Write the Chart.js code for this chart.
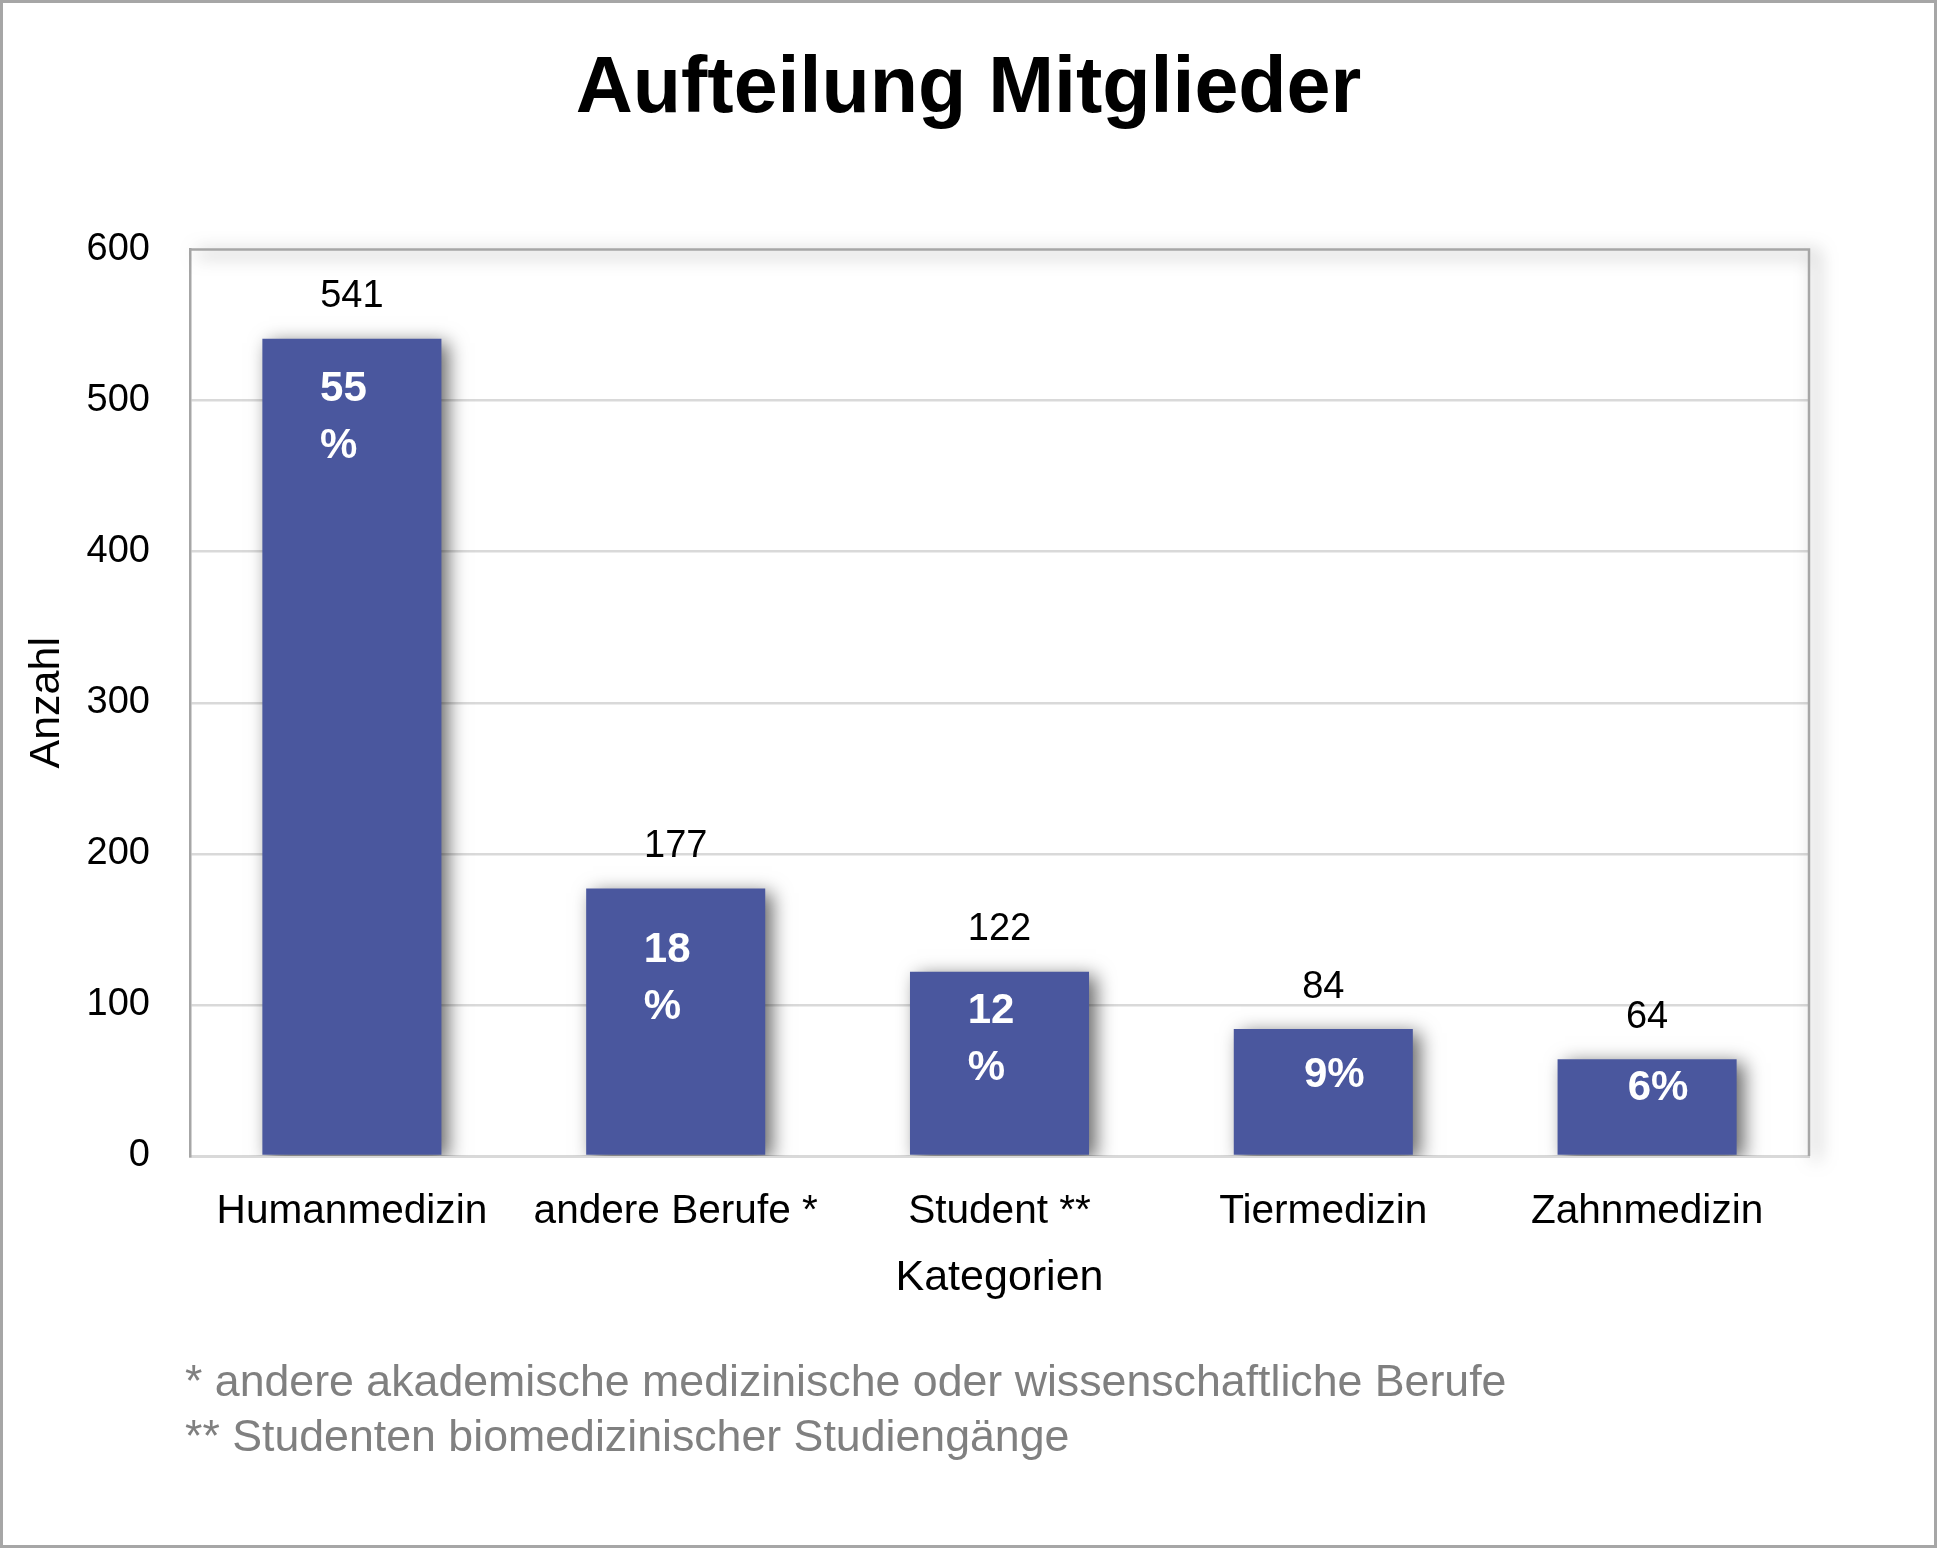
<!DOCTYPE html>
<html>
<head>
<meta charset="utf-8">
<script src="https://cdn.jsdelivr.net/npm/chart.js@4"></script>
<style>
  html, body { margin: 0; padding: 0; background: #ffffff; }
  canvas { display: block; }
</style>
</head>
<body>
<canvas id="c" width="1937" height="1548" style="width:1937px;height:1548px"></canvas>
<script>
// ---- Data ----
const categories = ['Humanmedizin', 'andere Berufe *', 'Student **', 'Tiermedizin', 'Zahnmedizin'];
const counts = [541, 177, 122, 84, 64];
const percents = [55, 18, 12, 9, 6];
const yTickValues = [0, 100, 200, 300, 400, 500, 600];
const chartTitle = 'Aufteilung Mitglieder';
const xAxisTitle = 'Kategorien';
const yAxisTitle = 'Anzahl';
const footnotes = [
  '* andere akademische medizinische oder wissenschaftliche Berufe',
  '** Studenten biomedizinischer Studiengänge'
];

// ---- Styles ----
const FONT = "'Liberation Sans', Arial, Helvetica, sans-serif";
const BAR_COLOR = '#4a579e';
const GRID_COLOR = '#d9d9d9';
const FRAME_COLOR = '#a6a6a6';

const shadowPlugin = {
  id: 'barShadow',
  beforeDatasetsDraw(chart) {
    const ctx = chart.ctx;
    ctx.save();
    ctx.shadowColor = 'rgba(0,0,0,0.6)';
    ctx.shadowBlur = 18;
    ctx.shadowOffsetX = 7;
    ctx.shadowOffsetY = 4;
  },
  afterDatasetsDraw(chart) {
    chart.ctx.restore();
  }
};

const framePlugin = {
  id: 'frame',
  beforeDatasetsDraw(chart) {
    const {ctx, chartArea: a} = chart;
    ctx.save();
    ctx.strokeStyle = FRAME_COLOR;
    ctx.lineWidth = 2.5;
    ctx.beginPath();
    ctx.moveTo(a.left, a.top);
    ctx.lineTo(a.right, a.top);
    ctx.lineTo(a.right, a.bottom);
    ctx.stroke();
    ctx.restore();
  },
  afterDraw(chart) {
    const ctx = chart.ctx;
    ctx.save();
    ctx.strokeStyle = FRAME_COLOR;
    ctx.lineWidth = 3;
    ctx.strokeRect(1.5, 1.5, chart.width - 3, chart.height - 3);
    ctx.restore();
  }
};

const labelPlugin = {
  id: 'barLabels',
  afterDatasetsDraw(chart, args, opts) {
    const ctx = chart.ctx;
    const meta = chart.getDatasetMeta(0);
    ctx.save();
    meta.data.forEach((bar, i) => {
      const x = bar.x, top = bar.y;
      // value above bar
      ctx.font = '38px ' + FONT;
      ctx.fillStyle = '#000000';
      ctx.textAlign = 'center';
      ctx.textBaseline = 'middle';
      ctx.fillText(String(counts[i]), x, top - 42);
      // percentage inside bar
      ctx.font = 'bold 42px ' + FONT;
      ctx.fillStyle = '#ffffff';
      const num = String(percents[i]);
      const y0 = top + opts.nudgeY[i] + 2.5;
      if (num.length > 1) {
        const w = ctx.measureText(num).width;
        const lx = x - w / 2 - 8.5;
        ctx.textAlign = 'left';
        ctx.fillText(num, lx, y0);
        ctx.fillText('%', lx, y0 + 57);
      } else {
        ctx.textAlign = 'center';
        ctx.fillText(num + '%', x + 11, y0);
      }
    });
    ctx.restore();
  }
};

const footnotePlugin = {
  id: 'footnotes',
  afterDraw(chart) {
    const ctx = chart.ctx;
    ctx.save();
    ctx.font = '44.7px ' + FONT;
    ctx.fillStyle = '#808080';
    ctx.textAlign = 'left';
    ctx.textBaseline = 'middle';
    ctx.fillText(footnotes[0], 185, 1384);
    ctx.fillText(footnotes[1], 185, 1439);
    ctx.restore();
  }
};

new Chart(document.getElementById('c'), {
  type: 'bar',
  data: {
    labels: categories,
    datasets: [{
      label: 'Anzahl',
      data: counts,
      backgroundColor: BAR_COLOR,
      borderWidth: 0,
      barPercentage: 0.553,
      categoryPercentage: 1.0,
      yAxisID: 'y'
    }]
  },
  plugins: [shadowPlugin, framePlugin, labelPlugin, footnotePlugin],
  options: {
    responsive: false,
    animation: false,
    devicePixelRatio: 1,
    layout: { padding: { left: 0, top: 0, right: 0, bottom: 0 } },
    plugins: {
      legend: { display: false },
      tooltip: { enabled: false },
      title: {
        display: true,
        text: chartTitle,
        color: '#000000',
        font: { family: FONT, size: 79, weight: 'bold', lineHeight: 1.2 },
        padding: { top: 42.6, bottom: 112.2 }
      },
      barLabels: { nudgeY: [48, 59, 37, 44, 27] }
    },
    scales: {
      x: {
        grid: { display: false, drawTicks: false },
        border: { display: true, color: GRID_COLOR, width: 3 },
        ticks: {
          color: '#000000',
          font: { family: FONT, size: 40.6 },
          padding: 31.5,
          maxRotation: 0,
          autoSkip: false
        },
        title: {
          display: true,
          text: xAxisTitle,
          color: '#000000',
          font: { family: FONT, size: 43 },
          padding: { top: 0, bottom: 244.5 }
        },
        afterFit(scale) { scale.height = 392; }
      },
      y: {
        min: 0,
        max: 600,
        afterBuildTicks(scale) { scale.ticks = yTickValues.map(v => ({ value: v })); },
        grid: {
          drawTicks: false,
          lineWidth: 2.5,
          color: (ctx) => (ctx.tick && (ctx.tick.value === 0 || ctx.tick.value === 600)) ? 'rgba(0,0,0,0)' : GRID_COLOR
        },
        border: { display: true, color: FRAME_COLOR, width: 2.5 },
        ticks: {
          color: '#000000',
          font: { family: FONT, size: 38 },
          padding: 40
        },
        title: {
          display: true,
          text: yAxisTitle,
          color: '#000000',
          font: { family: FONT, size: 43 },
          padding: { top: 21.5, bottom: 0 }
        },
        afterFit(scale) { scale.width = 190; }
      },
      yRightSpace: {
        type: 'linear',
        position: 'right',
        display: true,
        min: 0,
        max: 600,
        grid: { display: false, drawTicks: false },
        border: { display: false },
        ticks: { display: false },
        afterFit(scale) { scale.width = 128; }
      }
    }
  }
});
</script>
</body>
</html>
